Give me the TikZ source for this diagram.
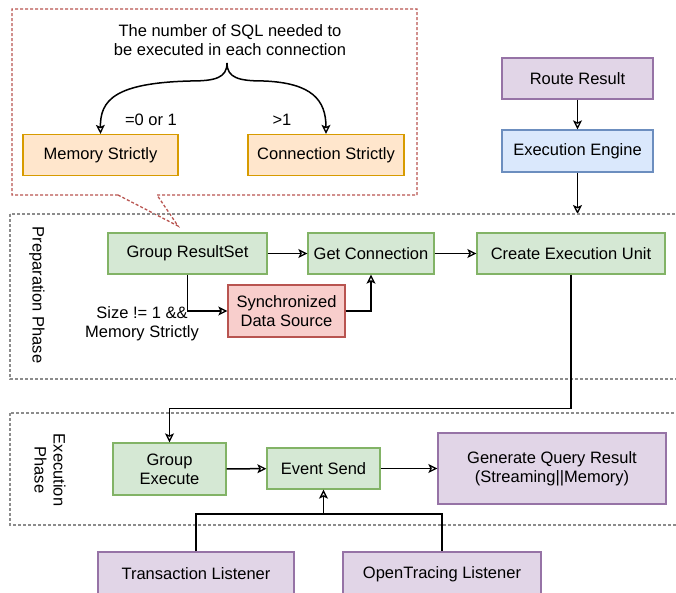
\documentclass[tikz,border=0pt]{standalone}
\usepackage{fontspec}
\setmainfont{Liberation Sans}
\usepackage{xcolor}
\usetikzlibrary{positioning,calc,arrows.meta}

\definecolor{grnfill}{HTML}{D5E8D4}
\definecolor{grnline}{HTML}{82B366}
\definecolor{purfill}{HTML}{E1D5E7}
\definecolor{purline}{HTML}{9673A6}
\definecolor{blufill}{HTML}{DAE8FC}
\definecolor{bluline}{HTML}{6C8EBF}
\definecolor{orgfill}{HTML}{FFE6CC}
\definecolor{orgline}{HTML}{D79B00}
\definecolor{redfill}{HTML}{F8CECC}
\definecolor{redline}{HTML}{B85450}
\definecolor{phaseline}{HTML}{8C8C8C}

\begin{document}
\begin{tikzpicture}[x=1pt, y=-1pt,
		every node/.style={font=\fontsize{16.5}{19}\selectfont, inner sep=0pt},
		box/.style={draw, line width=1.3pt, minimum height=41pt, align=center},
		grnbox/.style={box, fill=grnfill, draw=grnline},
		purbox/.style={box, fill=purfill, draw=purline},
		blubox/.style={box, fill=blufill, draw=bluline},
		orgbox/.style={box, fill=orgfill, draw=orgline},
		redbox/.style={box, fill=redfill, draw=redline},
		phase/.style={draw=phaseline, line width=1.3pt, dash pattern=on 3pt off 2pt},
		link/.style={line width=1.5pt, -{Stealth[open, length=9pt, width=9pt, inset=2pt, line width=1.3pt]}}]
				\useasboundingbox (0,0) rectangle (676,592);
				% callout
				\draw [redline, line width=1.3pt, dash pattern=on 3pt off 2pt] (118,195) -- (12,195) -- (12,9) -- (417,9) -- (417,195) -- (157,195) -- (178,226) -- cycle;
				\node [align=center] (title) at (230,40) {The number of SQL needed to\\be executed in each connection};
				\coordinate (brace) at (227,63);
				\node [orgbox, minimum width=155pt] (mem) at (100.5,155) {Memory Strictly};
				\node [orgbox, minimum width=156pt] (conn) at (326,155) {Connection Strictly};
				\node (zeroone) at (151,120) {=0 or 1};
				\node (morethan) at (282,120) {>1};
				\draw [link] (brace) .. controls (227,78) and (215,81) .. (190,81) .. controls (115,83) and (100,100) .. (mem.north);
				\draw [link] (brace) .. controls (227,78) and (239,81) .. (264,81) .. controls (312,83) and (326,100) .. (conn.north);
				% route
				\node [purbox, minimum width=151pt] (route) at (577.5,78.5) {Route Result};
				\node [blubox, minimum width=151pt, minimum height=42pt] (engine) at (577.5,151) {Execution Engine};
				\coordinate (entry) at (577.5,214);
				\draw [link] (route) -- (engine);
				\draw [link] (engine) -- (entry);
				% preparation phase
				\draw [phase] (10,214) rectangle (690,379);
				\node [rotate=-90] (preplabel) at (37,295) {Preparation Phase};
				\node [grnbox, minimum width=159pt] (grs) at (187.5,253.5) {Group ResultSet};
				\node [grnbox, minimum width=126pt] (getc) at (371,253.5) {Get Connection};
				\node [grnbox, minimum width=188pt] (ceu) at (571,253.5) {Create Execution Unit};
				\node [redbox, minimum width=117pt, minimum height=52pt] (sync) at (286.5,311) {Synchronized\\Data Source};
				\node [align=center] (sizelabel) at (142,324) {Size != 1 \&\&\\Memory Strictly};
				\draw [link] (grs) -- (getc);
				\draw [link] (getc) -- (ceu);
				\draw [link] (grs.south) |- (sync.west);
				\draw [link] (sync.east) -| (getc.south);
				% execution phase
				\draw [phase] (10,413) rectangle (690,525);
				\node [rotate=-90, align=center] (execlabel) at (50,470) {Execution\\Phase};
				\node [grnbox, minimum width=113pt, minimum height=52pt] (gexe) at (169.5,469) {Group\\Execute};
				\node [grnbox, minimum width=113pt] (esend) at (323.5,468.5) {Event Send};
				\node [purbox, minimum width=228pt, minimum height=71pt] (gqr) at (552,468.5) {Generate Query Result\\(Streaming||Memory)};
				\draw [link] (ceu.south) -- ++(0,134) -| (gexe.north);
				\draw [link] (gexe) -- (esend);
				\draw [link] (esend) -- (gqr);
				% listeners
				\node [purbox, minimum width=196pt, minimum height=44pt] (tl) at (196,574) {Transaction Listener};
				\node [purbox, minimum width=198pt, minimum height=44pt] (otl) at (442,574) {OpenTracing Listener};
				\coordinate (join) at (323.5,514);
				\draw [line width=1.5pt] (tl.north) |- (join) -| (otl.north);
				\draw [link] (join) -- (esend.south);
			\end{tikzpicture}
\end{document}
